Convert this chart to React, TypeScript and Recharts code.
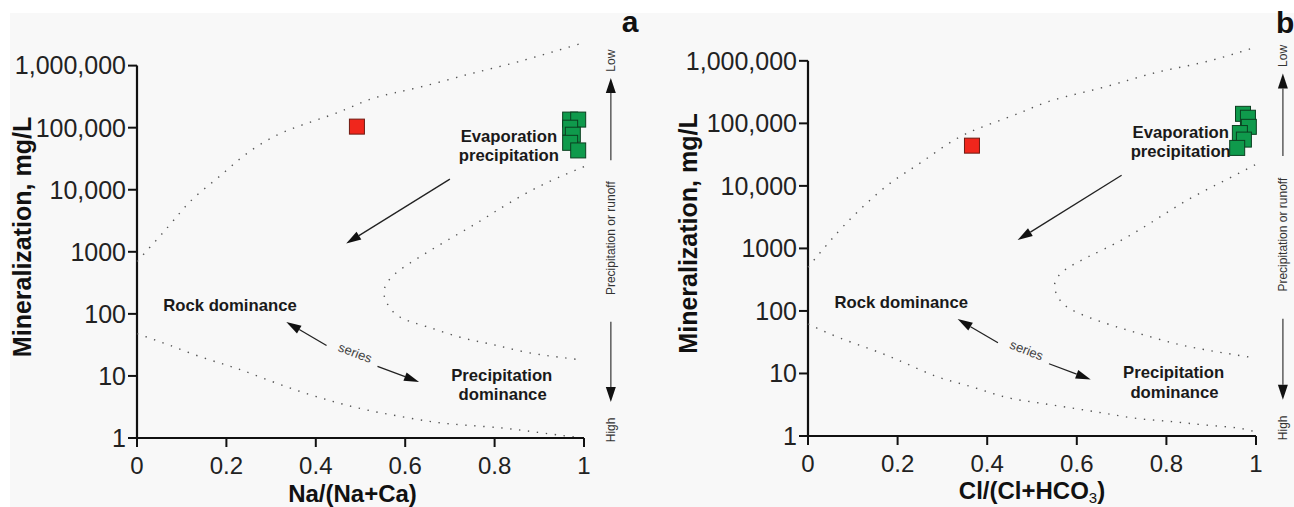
import React from "react";
import {
  ComposedChart,
  Line,
  Scatter,
  XAxis,
  YAxis,
  ReferenceLine,
  ReferenceDot,
} from "recharts";

const FONT = '"Liberation Sans", Arial, Helvetica, sans-serif';

// axes
const xTicks = [0, 0.2, 0.4, 0.6, 0.8, 1];
const yTicks = [1, 10, 100, 1000, 10000, 100000, 1000000];
const yTickLabels = ["1", "10", "100", "1000", "10,000", "100,000", "1,000,000"];

// panel a: Na/(Na+Ca)
const upperA = [
  { x: 0, y: 700 }, { x: 0.069, y: 2500 }, { x: 0.123, y: 6900 }, { x: 0.181, y: 15600 },
  { x: 0.242, y: 36600 }, { x: 0.315, y: 77000 }, { x: 0.391, y: 125000 }, { x: 0.465, y: 195000 },
  { x: 0.532, y: 303000 }, { x: 0.629, y: 443000 }, { x: 0.74, y: 720000 }, { x: 0.852, y: 1150000 },
  { x: 1, y: 2350000 },
];
const middleA = [
  { x: 1, y: 23500 }, { x: 0.917, y: 13000 }, { x: 0.834, y: 6200 }, { x: 0.761, y: 2930 },
  { x: 0.685, y: 1400 }, { x: 0.611, y: 660 }, { x: 0.57, y: 395 }, { x: 0.553, y: 245 },
  { x: 0.559, y: 150 }, { x: 0.588, y: 89 }, { x: 0.649, y: 62 }, { x: 0.723, y: 42 },
  { x: 0.796, y: 32 }, { x: 0.872, y: 24 }, { x: 0.946, y: 20 }, { x: 0.996, y: 18 },
];
const lowerA = [
  { x: 0, y: 48 }, { x: 0.069, y: 32 }, { x: 0.145, y: 20 }, { x: 0.219, y: 13.5 },
  { x: 0.293, y: 8.6 }, { x: 0.369, y: 5.5 }, { x: 0.443, y: 3.8 }, { x: 0.517, y: 2.8 },
  { x: 0.593, y: 2.2 }, { x: 0.667, y: 1.8 }, { x: 0.74, y: 1.6 }, { x: 0.817, y: 1.45 },
  { x: 0.89, y: 1.25 }, { x: 0.996, y: 1.0 },
];
const redA = [{ x: 0.492, y: 104000 }];
const greenA = [
  { x: 0.969, y: 135000 }, { x: 0.987, y: 135000 }, { x: 0.969, y: 100000 },
  { x: 0.975, y: 77000 }, { x: 0.969, y: 57000 }, { x: 0.987, y: 43000 },
];

// panel b: Cl/(Cl+HCO3)
const upperB = [
  { x: 0, y: 500 }, { x: 0.067, y: 1830 }, { x: 0.127, y: 4970 }, { x: 0.1875, y: 11600 },
  { x: 0.254, y: 24200 }, { x: 0.328, y: 55000 }, { x: 0.402, y: 95000 }, { x: 0.478, y: 152000 },
  { x: 0.551, y: 240000 }, { x: 0.663, y: 383000 }, { x: 0.775, y: 645000 }, { x: 0.886, y: 960000 },
  { x: 1, y: 1660000 },
];
const middleB = [
  { x: 0.998, y: 21700 }, { x: 0.924, y: 11600 }, { x: 0.848, y: 6000 }, { x: 0.775, y: 2850 },
  { x: 0.701, y: 1370 }, { x: 0.625, y: 730 }, { x: 0.574, y: 455 }, { x: 0.551, y: 280 },
  { x: 0.558, y: 167 }, { x: 0.589, y: 104 }, { x: 0.663, y: 64 }, { x: 0.737, y: 44 },
  { x: 0.8125, y: 31 }, { x: 0.886, y: 24 }, { x: 0.991, y: 18 },
];
const lowerB = [
  { x: 0, y: 62 }, { x: 0.067, y: 38 }, { x: 0.143, y: 24 }, { x: 0.2165, y: 14.7 },
  { x: 0.29, y: 8.8 }, { x: 0.366, y: 6.1 }, { x: 0.44, y: 4.2 }, { x: 0.513, y: 3.4 },
  { x: 0.589, y: 2.8 }, { x: 0.663, y: 2.3 }, { x: 0.737, y: 1.9 }, { x: 0.8125, y: 1.7 },
  { x: 0.886, y: 1.5 }, { x: 0.96, y: 1.34 }, { x: 1, y: 1.15 },
];
const redB = [{ x: 0.366, y: 44000 }];
const greenB = [
  { x: 0.971, y: 142000 }, { x: 0.982, y: 123000 }, { x: 0.984, y: 88000 },
  { x: 0.964, y: 70000 }, { x: 0.973, y: 55000 }, { x: 0.958, y: 40500 },
];

// annotations (same place on both panels)
const boldNotes = [
  { x: 0.832, y: 71000, text: "Evaporation" },
  { x: 0.832, y: 36000, text: "precipitation" },
  { x: 0.208, y: 138, text: "Rock dominance" },
  { x: 0.816, y: 10.3, text: "Precipitation" },
  { x: 0.818, y: 5, text: "dominance" },
];
const arrows = [
  { from: { x: 0.7, y: 14800 }, to: { x: 0.468, y: 1360 } },
  { from: { x: 0.424, y: 31 }, to: { x: 0.334, y: 74 } },
  { from: { x: 0.538, y: 14.3 }, to: { x: 0.631, y: 8 } },
];
const seriesNote = { x: 0.488, y: 23.6, text: "series" };
const sideX = 1.06;
const sideArrows = [
  { from: { x: sideX, y: 30000 }, to: { x: sideX, y: 630000 } },
  { from: { x: sideX, y: 75 }, to: { x: sideX, y: 3.8 } },
];
const sideNotes = [
  { x: sideX, y: 1200000, text: "Low" },
  { x: sideX, y: 1660, text: "Precipitation or runoff" },
  { x: sideX, y: 1.35, text: "High" },
];

const arrowShape = (color: string, lw: number, headL: number, headW: number) => (p: any) => {
  const { x1, y1, x2, y2 } = p;
  if ([x1, y1, x2, y2].some((v) => typeof v !== "number" || isNaN(v))) return <g />;
  const a = Math.atan2(y2 - y1, x2 - x1);
  const bx = x2 - headL * Math.cos(a);
  const by = y2 - headL * Math.sin(a);
  const nx = (-Math.sin(a) * headW) / 2;
  const ny = (Math.cos(a) * headW) / 2;
  return (
    <g>
      <line x1={x1} y1={y1} x2={bx} y2={by} stroke={color} strokeWidth={lw} />
      <polygon points={`${x2},${y2} ${bx + nx},${by + ny} ${bx - nx},${by - ny}`} fill="#111" />
    </g>
  );
};

const squareShape = (fill: string, stroke: string) => (p: any) => (
  <rect x={p.cx - 7.5} y={p.cy - 7.5} width={15} height={15} fill={fill} stroke={stroke} strokeWidth={1} />
);

const textShape = (text: string, opts: any) => (p: any) => (
  <text
    x={p.cx}
    y={p.cy}
    textAnchor="middle"
    dominantBaseline="central"
    fontFamily={FONT}
    fontSize={opts.size}
    fontWeight={opts.bold ? "bold" : "normal"}
    fill={opts.fill}
    transform={opts.angle ? `rotate(${opts.angle} ${p.cx} ${p.cy})` : undefined}
  >
    {text}
  </text>
);

interface PanelProps {
  upper: { x: number; y: number }[];
  middle: { x: number; y: number }[];
  lower: { x: number; y: number }[];
  red: { x: number; y: number }[];
  green: { x: number; y: number }[];
  marginTop: number;
  marginRight: number;
  yAxisWidth: number;
  xAxisHeight: number;
  yLabelX: number;
  xLabelDx: number;
  xLabelBase: number;
  xLabel: React.ReactNode;
}

function Panel(props: PanelProps) {
  const dotted = {
    stroke: "#555",
    strokeWidth: 1.4,
    strokeDasharray: "1.4 7.6",
    dot: false,
    activeDot: false,
    type: "natural" as const,
    isAnimationActive: false,
  };
  return (
    <ComposedChart
      width={647}
      height={507}
      margin={{ top: props.marginTop, right: props.marginRight, bottom: 0, left: 0 }}
    >
      <XAxis
        type="number"
        dataKey="x"
        domain={[0, 1]}
        ticks={xTicks}
        interval={0}
        tickFormatter={(v: number) => String(v)}
        tickSize={9}
        tickMargin={10}
        height={props.xAxisHeight}
        axisLine={{ stroke: "#111", strokeWidth: 2.2 }}
        tickLine={{ stroke: "#111", strokeWidth: 2 }}
        tick={{ fontSize: 24, fill: "#222", fontFamily: FONT }}
        label={(lp: any) => {
          const vb = lp.viewBox || {};
          return (
            <text
              x={vb.x + vb.width / 2 + props.xLabelDx}
              y={props.xLabelBase}
              textAnchor="middle"
              fontFamily={FONT}
              fontSize={24}
              fontWeight="bold"
              fill="#111"
            >
              {props.xLabel}
            </text>
          );
        }}
      />
      <YAxis
        type="number"
        scale="log"
        domain={[1, 3000000]}
        ticks={yTicks}
        interval={0}
        tickFormatter={(v: number) => yTickLabels[yTicks.indexOf(v)] ?? String(v)}
        tickSize={9}
        tickMargin={2}
        width={props.yAxisWidth}
        axisLine={false}
        tickLine={{ stroke: "#111", strokeWidth: 2 }}
        tick={{ fontSize: 25, fill: "#222", fontFamily: FONT }}
        label={(lp: any) => {
          const vb = lp.viewBox || {};
          const cy = vb.y + vb.height / 2;
          return (
            <text
              x={props.yLabelX}
              y={cy}
              textAnchor="middle"
              transform={`rotate(-90 ${props.yLabelX} ${cy})`}
              fontFamily={FONT}
              fontSize={25}
              fontWeight="bold"
              fill="#111"
            >
              Mineralization, mg/L
            </text>
          );
        }}
      />
      <ReferenceLine
        segment={[{ x: 0, y: 1 }, { x: 0, y: 1000000 }]}
        stroke="#111"
        strokeWidth={2.2}
        ifOverflow="visible"
      />
      <Line data={props.upper} dataKey="y" {...dotted} />
      <Line data={props.middle} dataKey="y" {...dotted} />
      <Line data={props.lower} dataKey="y" {...dotted} />
      {arrows.map((a, i) => (
        <ReferenceLine
          key={"ar" + i}
          segment={[a.from, a.to]}
          ifOverflow="visible"
          shape={arrowShape("#222", 1.3, 15, 9)}
        />
      ))}
      {sideArrows.map((a, i) => (
        <ReferenceLine
          key={"sa" + i}
          segment={[a.from, a.to]}
          ifOverflow="visible"
          shape={arrowShape("#666", 1.6, 15, 10)}
        />
      ))}
      {boldNotes.map((n, i) => (
        <ReferenceDot
          key={"bn" + i}
          x={n.x}
          y={n.y}
          r={0}
          ifOverflow="visible"
          shape={textShape(n.text, { size: 16.7, bold: true, fill: "#1a1a1a" })}
        />
      ))}
      <ReferenceDot
        x={seriesNote.x}
        y={seriesNote.y}
        r={0}
        ifOverflow="visible"
        shape={textShape(seriesNote.text, { size: 13, fill: "#444", angle: 21 })}
      />
      {sideNotes.map((n, i) => (
        <ReferenceDot
          key={"sn" + i}
          x={n.x}
          y={n.y}
          r={0}
          ifOverflow="visible"
          shape={textShape(n.text, { size: 12, fill: "#333", angle: -90 })}
        />
      ))}
      <Scatter data={props.red} dataKey="y" shape={squareShape("#f0261c", "#6e1a12")} isAnimationActive={false} />
      <Scatter data={props.green} dataKey="y" shape={squareShape("#0f9a4c", "#0b3f20")} isAnimationActive={false} />
    </ComposedChart>
  );
}

export default function App() {
  return (
    <div style={{ position: "absolute", left: 0, top: 0, width: 1294, height: 507, background: "#fff", overflow: "hidden" }}>
      <div style={{ position: "absolute", left: 10, top: 13, width: 1284, height: 494, background: "#f8f8f8" }} />
      <div style={{ position: "absolute", left: 0, top: 0 }}>
        <Panel
          upper={upperA}
          middle={middleA}
          lower={lowerA}
          red={redA}
          green={greenA}
          marginTop={36}
          marginRight={63}
          yAxisWidth={137}
          xAxisHeight={69}
          yLabelX={31}
          xLabelDx={-8}
          xLabelBase={502}
          xLabel="Na/(Na+Ca)"
        />
      </div>
      <div style={{ position: "absolute", left: 647, top: 0 }}>
        <Panel
          upper={upperB}
          middle={middleB}
          lower={lowerB}
          red={redB}
          green={greenB}
          marginTop={31}
          marginRight={38}
          yAxisWidth={161}
          xAxisHeight={71}
          yLabelX={50}
          xLabelDx={0}
          xLabelBase={499}
          xLabel={
            <>
              Cl/(Cl+HCO
              <tspan fontSize={15} fontWeight="normal" dy={4}>3</tspan>
              <tspan dy={-4}>)</tspan>
            </>
          }
        />
      </div>
      <svg width={1294} height={507} style={{ position: "absolute", left: 0, top: 0, pointerEvents: "none" }}>
        <text x={630} y={32} textAnchor="middle" fontFamily={FONT} fontSize={30} fontWeight="bold" fill="#111">a</text>
        <text x={1276} y={33} fontFamily={FONT} fontSize={30} fontWeight="bold" fill="#111">b</text>
      </svg>
    </div>
  );
}
